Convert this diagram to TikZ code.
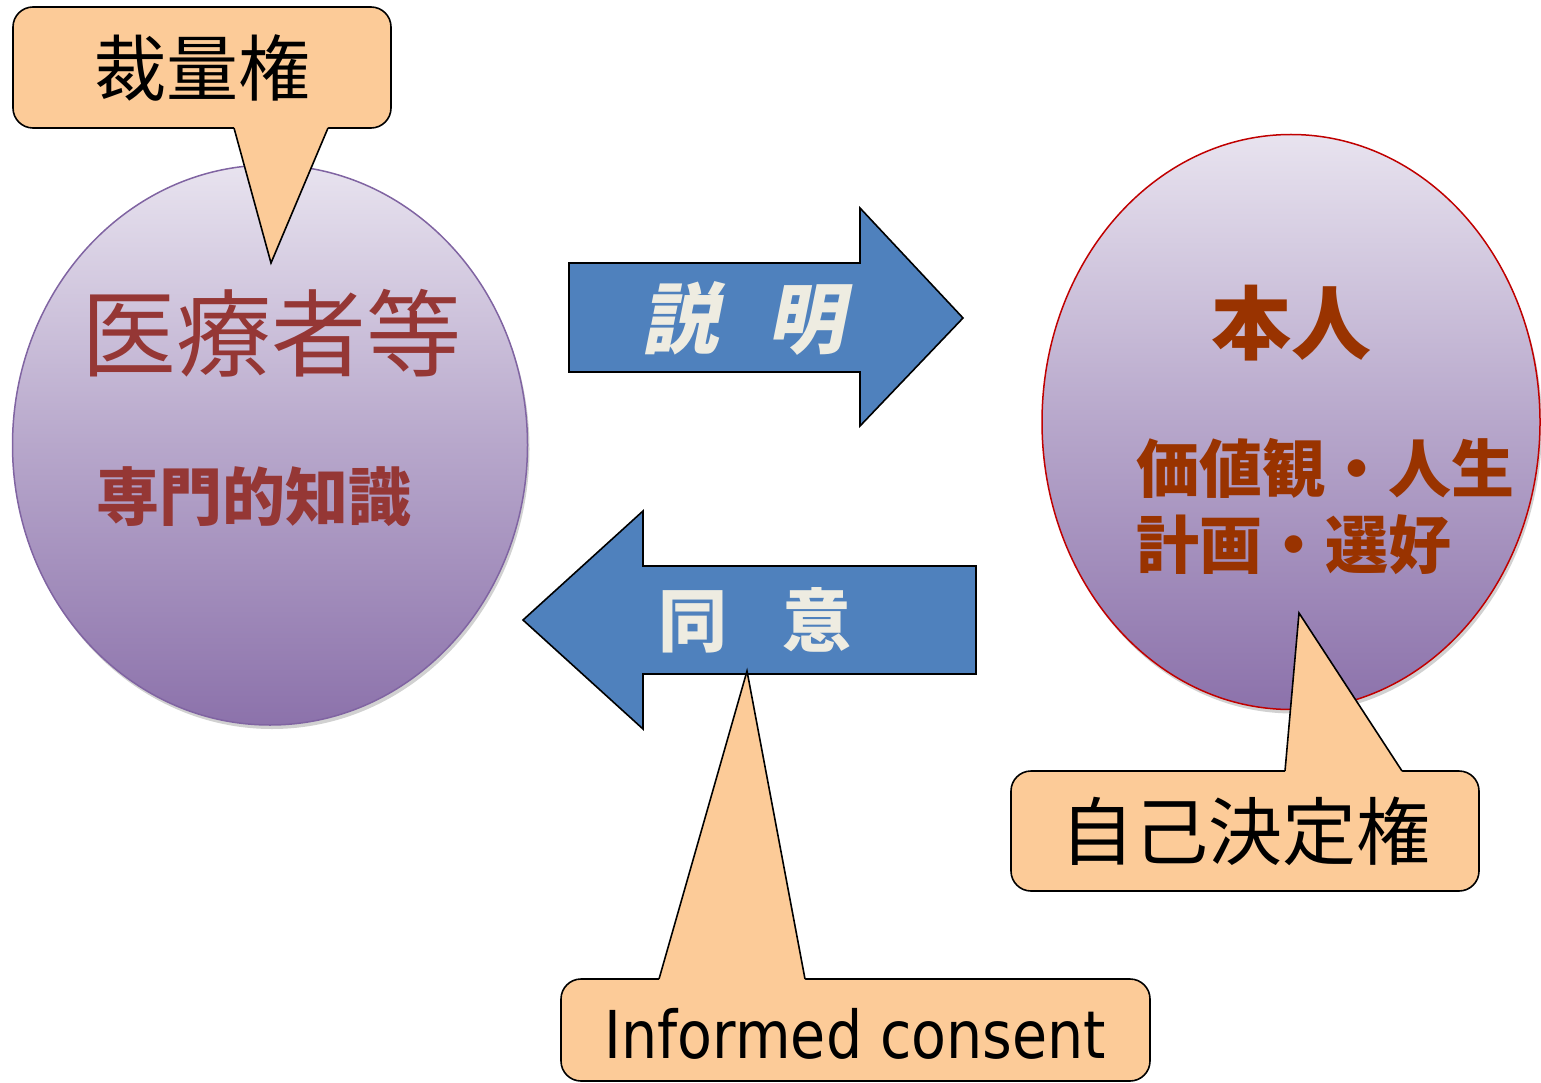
\documentclass[tikz,border=0pt]{standalone}
\usepackage{fontspec}
\usepackage{graphicx}
\newfontfamily\jp{Noto Sans CJK JP}
\newfontfamily\jpslant[FakeSlant=0.2]{Noto Sans CJK JP}
\newfontfamily\lat{DejaVu Sans}
\usetikzlibrary{shapes.geometric}
\definecolor{peach}{HTML}{FCCB98}
\definecolor{arrowblue}{HTML}{4F81BD}
\definecolor{arrowtext}{HTML}{EEECE1}
\definecolor{lavtop}{HTML}{E8E3EF}
\definecolor{lavmid}{HTML}{B7A7CB}
\definecolor{lavbot}{HTML}{8C72AB}
\definecolor{leftedge}{HTML}{8064A2}
\definecolor{rightedge}{HTML}{C00000}
\definecolor{medred}{HTML}{953735}
\definecolor{selfred}{HTML}{993300}
\begin{document}
\begin{tikzpicture}[x=1pt,y=-1pt,
  callbox/.style={rectangle, rounded corners=20pt, fill=peach, draw=black, line width=1.6pt, inner sep=0pt},
  tailfill/.style={fill=peach},
  tailline/.style={draw=black, line width=1.6pt, line join=miter},
  blob/.style={ellipse, inner sep=0pt, top color=lavtop, bottom color=lavbot, middle color=lavmid, line width=1.5pt},
  shade/.style={ellipse, inner sep=0pt, fill=black, opacity=0.18},
  arrowshape/.style={fill=arrowblue, draw=black, line width=1.6pt, line join=miter},
  arrowlabel/.style={text=arrowtext, inner sep=0pt},
  callfont/.style={font=\jp\fontsize{72}{80}\selectfont}
]
\useasboundingbox (0,0) rectangle (1541,1083);

% shadows
\node[shade, minimum width=515, minimum height=560] (medshadow) at (272,449) {};
\node[shade, minimum width=498, minimum height=575] (selfshadow) at (1293,426) {};

% ellipses
\node[blob, draw=leftedge, minimum width=515, minimum height=560] (med) at (270,445) {};
\node[blob, draw=rightedge, minimum width=498, minimum height=575] (self) at (1291,422) {};

% texts in ellipses
\node[text=medred, inner sep=0pt, font=\jp\fontsize{95}{100}\selectfont] (medtitle) at (271,333) {医療者等};
\node[text=medred, inner sep=0pt, font=\jp\bfseries\fontsize{63}{70}\selectfont] (medknow) at (254,497) {専門的知識};
\node[text=selfred, inner sep=0pt, font=\jp\bfseries\fontsize{80}{90}\selectfont] (selftitle) at (1291,323) {本人};
\node[text=selfred, inner sep=0pt, anchor=west, font=\jp\bfseries\fontsize{63}{70}\selectfont] (selfval1) at (1136,468) {価値観・人生};
\node[text=selfred, inner sep=0pt, anchor=west, font=\jp\bfseries\fontsize{63}{70}\selectfont] (selfval2) at (1136,545) {計画・選好};

% arrows
\draw[arrowshape] (569,263) -- (860,263) -- (860,208) -- (963,318) -- (860,426) -- (860,372) -- (569,372) -- cycle;
\draw[arrowshape] (976,566) -- (643,566) -- (643,511) -- (523,620) -- (643,729) -- (643,674) -- (976,674) -- cycle;
\node[arrowlabel, font=\jpslant\bfseries\fontsize{77}{80}\selectfont] (explain) at (743,318) {説\hspace{50pt}明};
\node[arrowlabel, font=\jp\bfseries\fontsize{69}{80}\selectfont] (consent) at (755,620) {同\hspace{55pt}意};

% callout: discretion
\node[callbox, callfont, minimum width=378, minimum height=121] (discretion) at (202,67.5) {裁量権};
\coordinate (dtip) at (271,263);
\fill[tailfill] (234,126) -- (234,128) -- (dtip) -- (328,128) -- (328,126) -- cycle;
\draw[tailline] (234,128) -- (dtip) -- (328,128);

% callout: self-determination
\node[callbox, font=\jp\fontsize{74}{80}\selectfont, minimum width=468, minimum height=120] (selfdet) at (1245,831) {自己決定権};
\coordinate (stip) at (1299,613);
\fill[tailfill] (1285,773) -- (1285,771) -- (stip) -- (1402,771) -- (1402,773) -- cycle;
\draw[tailline] (1285,771) -- (stip) -- (1402,771);

% callout: informed consent
\node[callbox, minimum width=589, minimum height=102] (ic) at (855.5,1030) {};
\node[inner sep=0pt, font=\lat\fontsize{66}{72}\selectfont] (ictext) at (855.5,1034) {\scalebox{0.865}[1]{Informed consent}};
\coordinate (itip) at (747,671);
\fill[tailfill] (659,981) -- (659,979) -- (itip) -- (805,979) -- (805,981) -- cycle;
\draw[tailline] (659,979) -- (itip) -- (805,979);
\end{tikzpicture}
\end{document}
